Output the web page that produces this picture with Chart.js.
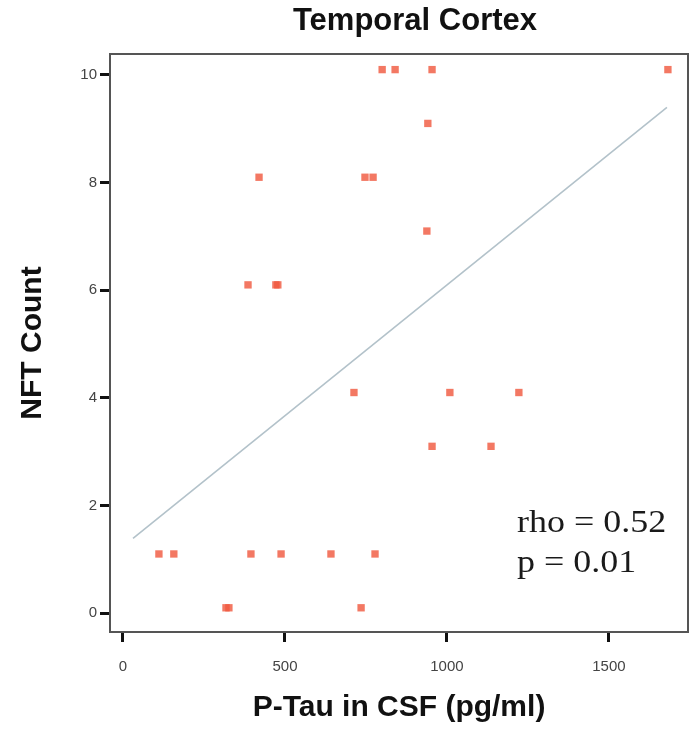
<!DOCTYPE html>
<html>
<head>
<meta charset="utf-8">
<script src="https://cdn.jsdelivr.net/npm/chart.js@4/dist/chart.umd.min.js"></script>
<style>
html,body{margin:0;padding:0;background:#fff;}
#wrap{width:694px;height:729px;}
</style>
</head>
<body>
<div id="wrap"><canvas id="c" width="694" height="729"></canvas></div>
<script>
// ---- data ----
const chartTitle = "Temporal Cortex";
const xTitle = "P-Tau in CSF (pg/ml)";
const yTitle = "NFT Count";
const xTickValues = [0, 500, 1000, 1500];
const yTickValues = [0, 2, 4, 6, 8, 10];
const pTauValues = [800, 840, 954, 1682, 941, 420, 747, 772, 938, 386, 472, 478,
                    713, 1009, 1222, 954, 1136, 111, 157, 395, 488, 642, 778, 318, 327, 735];
const nftValues  = [10.1, 10.1, 10.1, 10.1, 9.1, 8.1, 8.1, 8.1, 7.1, 6.1, 6.1, 6.1,
                    4.1, 4.1, 4.1, 3.1, 3.1, 1.1, 1.1, 1.1, 1.1, 1.1, 1.1, 0.1, 0.1, 0.1];
const fitX = [31, 1679];
const fitY = [1.39, 9.40];
const statLines = ["rho = 0.52", "p = 0.01"];

const points = pTauValues.map((x, i) => ({x: x, y: nftValues[i]}));
const fitLine = fitX.map((x, i) => ({x: x, y: fitY[i]}));

const decorPlugin = {
  id: 'decor',
  afterDraw(chart) {
    const {ctx, chartArea: a} = chart;
    ctx.save();
    // frame top/right
    ctx.strokeStyle = '#555';
    ctx.lineWidth = 2;
    ctx.beginPath();
    ctx.moveTo(a.left, a.top);
    ctx.lineTo(a.right, a.top);
    ctx.lineTo(a.right, a.bottom);
    ctx.stroke();
    // title
    ctx.fillStyle = '#111';
    ctx.font = 'bold 31px "Liberation Sans", Arial, sans-serif';
    ctx.textAlign = 'center';
    ctx.textBaseline = 'middle';
    ctx.fillText(chartTitle, 415, 21);
    ctx.restore();
    // stats (slightly wide serif)
    ctx.save();
    ctx.font = '31px "Liberation Serif", "Times New Roman", serif';
    ctx.textAlign = 'left';
    ctx.textBaseline = 'alphabetic';
    ctx.fillStyle = '#1a1a1a';
    const sx = 1.16;
    ctx.translate(a.left + 407, 0);
    ctx.scale(sx, 1);
    ctx.fillText(statLines[0], 0, 532);
    ctx.fillText(statLines[1], 0, 572);
    ctx.restore();
  }
};

new Chart(document.getElementById('c'), {
  type: 'scatter',
  data: {
    datasets: [
      {
        type: 'line',
        data: fitLine,
        borderColor: '#b3c2ca',
        borderWidth: 1.6,
        pointRadius: 0,
        fill: false,
        order: 2
      },
      {
        data: points,
        pointStyle: 'rect',
        pointRadius: 5.2,
        backgroundColor: 'rgba(240,90,65,0.82)',
        borderWidth: 0,
        order: 1
      }
    ]
  },
  options: {
    responsive: false,
    animation: false,
    devicePixelRatio: 1,
    layout: {padding: {top: 54, right: 6, left: 0, bottom: 0}},
    plugins: {legend: {display: false}, tooltip: {enabled: false}},
    scales: {
      x: {
        type: 'linear',
        min: -40,
        max: 1744,
        afterBuildTicks(s) { s.ticks = xTickValues.map(v => ({value: v})); },
        afterFit(s) { s.height = 97; },
        grid: {display: true, drawOnChartArea: false, drawTicks: true, tickLength: 10, tickWidth: 3, tickColor: '#111'},
        border: {display: true, color: '#555', width: 2},
        ticks: {padding: 16, color: '#444', callback: v => String(v),
                font: {family: '"Liberation Sans", Arial, sans-serif', size: 15}, maxRotation: 0},
        title: {display: true, text: xTitle, color: '#111', padding: {top: 0, bottom: 3},
                font: {family: '"Liberation Sans", Arial, sans-serif', size: 30, weight: 'bold'}}
      },
      y: {
        type: 'linear',
        min: -0.35,
        max: 10.39,
        afterBuildTicks(s) { s.ticks = yTickValues.map(v => ({value: v})); },
        afterFit(s) { s.width = 110; },
        grid: {display: true, drawOnChartArea: false, drawTicks: true, tickLength: 10, tickWidth: 3, tickColor: '#111'},
        border: {display: true, color: '#555', width: 2},
        ticks: {padding: 3, color: '#444', callback: v => String(v),
                font: {family: '"Liberation Sans", Arial, sans-serif', size: 15}},
        title: {display: true, text: yTitle, color: '#111', padding: {top: 15, bottom: 0},
                font: {family: '"Liberation Sans", Arial, sans-serif', size: 30, weight: 'bold'}}
      }
    }
  },
  plugins: [decorPlugin]
});
</script>
</body>
</html>
